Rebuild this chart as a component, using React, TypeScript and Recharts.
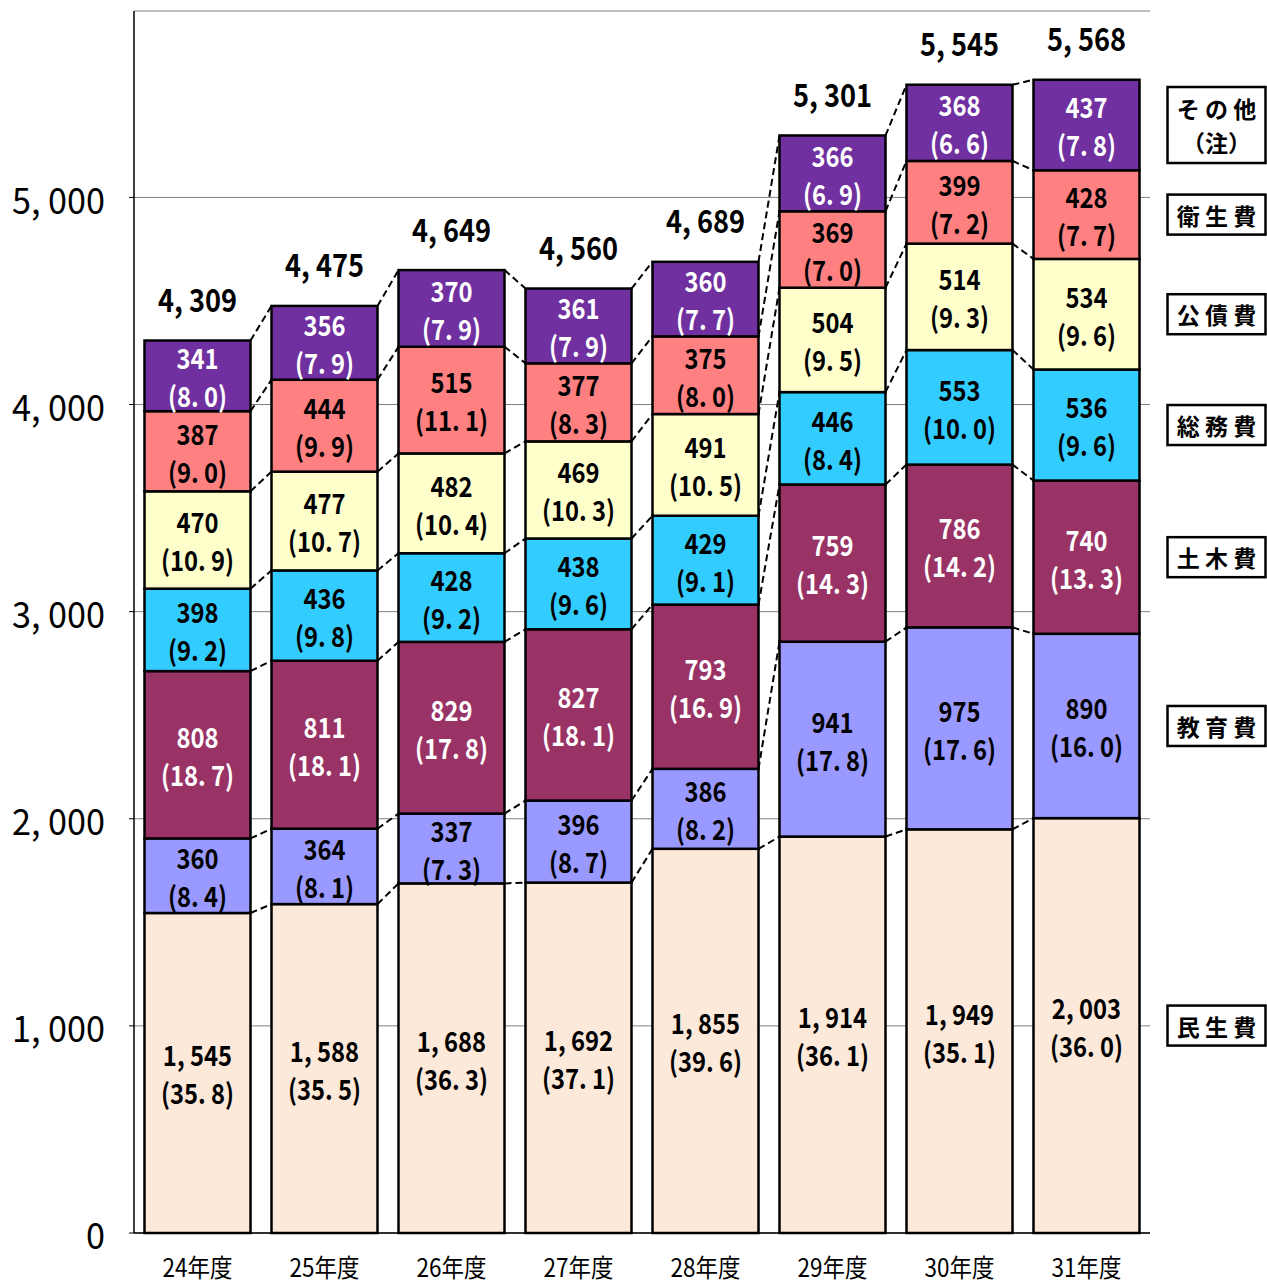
import { Bar, BarChart, CartesianGrid, XAxis, YAxis } from "recharts";

const years = ["24年度", "25年度", "26年度", "27年度", "28年度", "29年度", "30年度", "31年度"];

const minsei = [1545, 1588, 1688, 1692, 1855, 1914, 1949, 2003];
const minseiPct = [35.8, 35.5, 36.3, 37.1, 39.6, 36.1, 35.1, 36.0];
const kyoiku = [360, 364, 337, 396, 386, 941, 975, 890];
const kyoikuPct = [8.4, 8.1, 7.3, 8.7, 8.2, 17.8, 17.6, 16.0];
const doboku = [808, 811, 829, 827, 793, 759, 786, 740];
const dobokuPct = [18.7, 18.1, 17.8, 18.1, 16.9, 14.3, 14.2, 13.3];
const somu = [398, 436, 428, 438, 429, 446, 553, 536];
const somuPct = [9.2, 9.8, 9.2, 9.6, 9.1, 8.4, 10.0, 9.6];
const kosai = [470, 477, 482, 469, 491, 504, 514, 534];
const kosaiPct = [10.9, 10.7, 10.4, 10.3, 10.5, 9.5, 9.3, 9.6];
const eisei = [387, 444, 515, 377, 375, 369, 399, 428];
const eiseiPct = [9.0, 9.9, 11.1, 8.3, 8.0, 7.0, 7.2, 7.7];
const sonota = [341, 356, 370, 361, 360, 366, 368, 437];
const sonotaPct = [8.0, 7.9, 7.9, 7.9, 7.7, 6.9, 6.6, 7.8];
const totals = [4309, 4475, 4649, 4560, 4689, 5301, 5545, 5568];

const yTicks = [0, 1000, 2000, 3000, 4000, 5000];

const series = [
  { key: "minsei", values: minsei, pcts: minseiPct, fill: "#FDE9D9", text: "#000", legend: ["民 生 費"] },
  { key: "kyoiku", values: kyoiku, pcts: kyoikuPct, fill: "#9999FF", text: "#000", legend: ["教 育 費"] },
  { key: "doboku", values: doboku, pcts: dobokuPct, fill: "#993366", text: "#fff", legend: ["土 木 費"] },
  { key: "somu", values: somu, pcts: somuPct, fill: "#33CCFF", text: "#000", legend: ["総 務 費"] },
  { key: "kosai", values: kosai, pcts: kosaiPct, fill: "#FFFFCC", text: "#000", legend: ["公 債 費"] },
  { key: "eisei", values: eisei, pcts: eiseiPct, fill: "#FF8080", text: "#000", legend: ["衛 生 費"] },
  { key: "sonota", values: sonota, pcts: sonotaPct, fill: "#7030A0", text: "#fff", legend: ["そ の 他", "（注）"] },
];

const data = years.map((year, i) => {
  const row: Record<string, string | number> = { year };
  series.forEach((s) => (row[s.key] = s.values[i]));
  return row;
});

const FONT = "'Noto Sans CJK JP', 'Noto Sans', sans-serif";
const CAT_GAP = 10.5;

const fmt = (n: number) => n.toLocaleString("en-US").replace(",", ", ");
const fmtPct = (p: number) => `(${p.toFixed(1).replace(".", ". ")})`;

function cumTop(k: number, i: number) {
  let sum = 0;
  for (let j = 0; j <= k; j++) sum += series[j].values[i];
  return sum;
}

function Narrow({ x, y, size, weight, fill, children, sx = 0.85, anchor = "middle" }: any) {
  return (
    <text
      transform={`translate(${x},${y}) scale(${sx},1)`}
      textAnchor={anchor}
      dominantBaseline="central"
      fontFamily={FONT}
      fontSize={size}
      fontWeight={weight}
      fill={fill}
    >
      {children}
    </text>
  );
}

function makeShape(k: number) {
  const s = series[k];
  return (props: any) => {
    const { x, y, width, height, index } = props;
    const v = s.values[index];
    const ppu = height / v;
    const zero = y + height + (k > 0 ? cumTop(k - 1, index) : 0) * ppu;
    const cx = x + width / 2;
    const cy = y + height / 2;
    const last = index === years.length - 1;
    let connector = null;
    if (!last) {
      const y2 = zero - cumTop(k, index + 1) * ppu;
      connector = (
        <line
          x1={x + width}
          y1={y}
          x2={x + width + 2 * CAT_GAP}
          y2={y2}
          stroke="#000"
          strokeWidth={2}
          strokeDasharray="7 4"
        />
      );
    }
    const boxH = s.legend.length > 1 ? 76 : 40;
    return (
      <g>
        <rect x={x} y={y} width={width} height={height} fill={s.fill} stroke="#000" strokeWidth={2.5} />
        {connector}
        <Narrow x={cx} y={cy - 19} size={28} weight="bold" fill={s.text} sx={0.85}>
          {fmt(v)}
        </Narrow>
        <Narrow x={cx} y={cy + 19} size={28} weight="bold" fill={s.text} sx={0.85}>
          {fmtPct(s.pcts[index])}
        </Narrow>
        {k === series.length - 1 && (
          <Narrow x={cx} y={y - 42} size={32} weight="bold" fill="#000">
            {fmt(totals[index])}
          </Narrow>
        )}
        {last && (
          <g>
            <rect
              x={x + width + 28}
              y={cy - boxH / 2}
              width={98}
              height={boxH}
              fill="#fff"
              stroke="#000"
              strokeWidth={2.5}
            />
            {s.legend.map((t, li) => (
              <text
                key={li}
                x={x + width + 28 + 49}
                y={cy + (li - (s.legend.length - 1) / 2) * 34}
                textAnchor="middle"
                dominantBaseline="central"
                fontFamily={FONT}
                fontSize={23}
                fontWeight="bold"
                fill="#000"
              >
                {t}
              </text>
            ))}
          </g>
        )}
      </g>
    );
  };
}

const YTick = ({ x, y, payload }: any) => (
  <Narrow x={x} y={y} size={36} weight="normal" fill="#000" sx={0.95}>
    <tspan textAnchor="end">{fmt(payload.value)}</tspan>
  </Narrow>
);

const XTick = ({ x, y, payload }: any) => (
  <Narrow x={x} y={y + 8} size={25} weight="normal" fill="#000" sx={0.9}>
    {payload.value}
  </Narrow>
);

export default function App() {
  return (
    <div style={{ position: "absolute", left: 0, top: 0, background: "#fff" }}>
      <BarChart
        width={1267}
        height={1286}
        data={data}
        margin={{ top: 11, right: 117, left: 0, bottom: 0 }}
        barCategoryGap={CAT_GAP}
      >
        <CartesianGrid vertical={false} stroke="#808080" strokeWidth={1} />
        <XAxis
          dataKey="year"
          height={53}
          tickLine={false}
          tickSize={0}
          tickMargin={25}
          axisLine={{ stroke: "#000", strokeWidth: 1.5 }}
          tick={<XTick />}
        />
        <YAxis
          width={134}
          domain={[0, 5900]}
          ticks={yTicks}
          tickLine={{ stroke: "#000" }}
          tickSize={5}
          tickMargin={24}
          axisLine={{ stroke: "#000", strokeWidth: 1.5 }}
          tick={<YTick />}
        />
        {series.map((s, k) => (
          <Bar key={s.key} dataKey={s.key} stackId="a" fill={s.fill} isAnimationActive={false} shape={makeShape(k)} />
        ))}
      </BarChart>
    </div>
  );
}
